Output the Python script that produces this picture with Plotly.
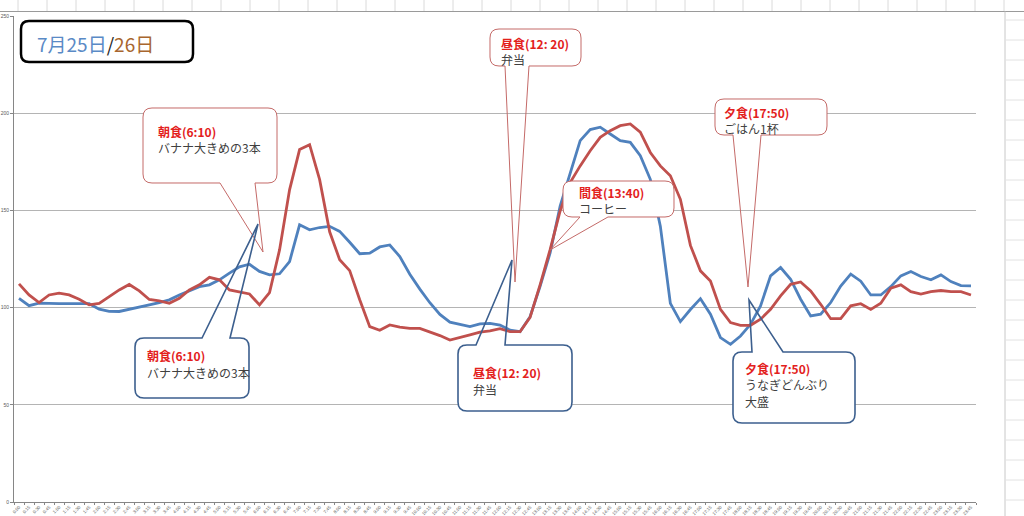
import plotly.graph_objects as go

# ---------------- data ----------------
times = [f"{h}:{m:02d}" for h in range(24) for m in (0, 15, 30, 45)]

jul25 = [104.8, 101.0, 102.3, 102.0, 102.0, 102.0, 102.0, 102.0, 99.2, 98.1,
         98.0, 99.0, 100.2, 101.4, 102.6, 104.0, 106.5, 108.8, 110.8, 111.7,
         114.3, 117.7, 121.0, 122.3, 118.6, 116.8, 117.4, 123.7, 142.6, 140.0,
         141.2, 141.8, 139.2, 133.6, 127.7, 128.0, 131.2, 132.2, 126.3, 117.2,
         109.5, 102.5, 96.5, 92.5, 91.4, 90.2, 91.6, 91.9, 91.0, 88.4,
         87.6, 95.3, 110.9, 128.1, 152.2, 169.5, 185.9, 191.6, 192.8, 189.3,
         185.9, 185.0, 178.1, 166.0, 141.9, 102.2, 92.8, 99.0, 104.6, 96.6,
         84.6, 81.1, 85.4, 91.4, 100.9, 116.3, 120.6, 114.6, 104.3, 95.7,
         96.6, 102.6, 111.1, 117.2, 113.6, 106.5, 106.5, 110.8, 116.3, 118.6,
         116.0, 114.3, 116.8, 113.4, 111.3, 111.2]

jul26 = [112.2, 106.5, 102.6, 106.5, 107.4, 106.5, 104.3, 101.4, 102.2, 105.7,
         109.1, 111.9, 108.6, 104.2, 103.4, 102.2, 104.8, 109.1, 111.7, 115.6,
         114.3, 109.1, 108.2, 107.0, 101.4, 107.7, 129.7, 160.6, 181.3, 183.8,
         165.8, 139.0, 124.6, 119.0, 104.0, 90.2, 88.3, 91.1, 90.0, 89.3,
         89.3, 87.6, 85.6, 83.3, 84.5, 86.0, 87.4, 88.0, 89.2, 87.6,
         87.6, 95.0, 111.7, 129.8, 149.7, 164.3, 172.9, 180.7, 187.6, 191.0,
         193.6, 194.5, 190.2, 179.8, 172.9, 167.8, 155.7, 132.0, 118.9, 113.7,
         99.1, 92.3, 90.9, 90.9, 94.0, 99.1, 106.0, 112.0, 113.2, 108.6,
         101.7, 94.3, 94.3, 100.9, 102.0, 99.1, 102.2, 110.0, 111.7, 108.2,
         107.0, 108.2, 108.8, 108.2, 108.2, 106.5]

y_ticks = [0, 50, 100, 150, 200, 250]

# ---------------- layout geometry (pixels) ----------------
W, H = 1024, 516
PL, PR, PT, PB = 14, 976, 16, 502


def px(x):
    return (x - PL) / (PR - PL)


def py(y):
    return (PB - y) / (PB - PT)


def P(x, y):
    return f"{px(x):.5f},{py(y):.5f}"


def rrect_path(x0, y0, x1, y1, r):
    return (f"M {P(x0 + r, y0)} L {P(x1 - r, y0)} Q {P(x1, y0)} {P(x1, y0 + r)} "
            f"L {P(x1, y1 - r)} Q {P(x1, y1)} {P(x1 - r, y1)} "
            f"L {P(x0 + r, y1)} Q {P(x0, y1)} {P(x0, y1 - r)} "
            f"L {P(x0, y0 + r)} Q {P(x0, y0)} {P(x0 + r, y0)} Z")


def callout_path(x0, y0, x1, y1, r, side, b0, b1, tx, ty):
    if side == "bottom":
        return (f"M {P(x0 + r, y0)} L {P(x1 - r, y0)} Q {P(x1, y0)} {P(x1, y0 + r)} "
                f"L {P(x1, y1 - r)} Q {P(x1, y1)} {P(x1 - r, y1)} "
                f"L {P(b1, y1)} L {P(tx, ty)} L {P(b0, y1)} "
                f"L {P(x0 + r, y1)} Q {P(x0, y1)} {P(x0, y1 - r)} "
                f"L {P(x0, y0 + r)} Q {P(x0, y0)} {P(x0 + r, y0)} Z")
    return (f"M {P(x0 + r, y0)} L {P(b0, y0)} L {P(tx, ty)} L {P(b1, y0)} "
            f"L {P(x1 - r, y0)} Q {P(x1, y0)} {P(x1, y0 + r)} "
            f"L {P(x1, y1 - r)} Q {P(x1, y1)} {P(x1 - r, y1)} "
            f"L {P(x0 + r, y1)} Q {P(x0, y1)} {P(x0, y1 - r)} "
            f"L {P(x0, y0 + r)} Q {P(x0, y0)} {P(x0 + r, y0)} Z")


BLUE = "#4F81BD"
RED = "#C0504D"
RED_TXT = "#E3211C"
TXT = "#404040"
JP = "Noto Sans CJK JP"

fig = go.Figure()
fig.add_trace(go.Scatter(x=times, y=jul25, mode="lines", name="7月25日",
                         line=dict(color=BLUE, width=2.8), hoverinfo="skip"))
fig.add_trace(go.Scatter(x=times, y=jul26, mode="lines", name="7月26日",
                         line=dict(color=RED, width=2.8), hoverinfo="skip"))

shapes = []
annotations = []

# spreadsheet decoration around chart
for cx in range(18, 1024, 29):
    shapes.append(dict(type="line", xref="paper", yref="paper", x0=px(cx), x1=px(cx),
                       y0=py(0), y1=py(11), line=dict(color="#DADADA", width=1)))
shapes.append(dict(type="line", xref="paper", yref="paper", x0=px(0), x1=px(1024),
                   y0=py(11.5), y1=py(11.5), line=dict(color="#9A9A9A", width=1)))
shapes.append(dict(type="line", xref="paper", yref="paper", x0=px(1005), x1=px(1005),
                   y0=py(11.5), y1=py(516), line=dict(color="#C8C8C8", width=1)))
for ry in range(20, 516, 20):
    shapes.append(dict(type="line", xref="paper", yref="paper", x0=px(1006), x1=px(1024),
                       y0=py(ry), y1=py(ry), line=dict(color="#E2E2E2", width=1)))

# title box
shapes.append(dict(type="path", xref="paper", yref="paper",
                   path=rrect_path(21, 21, 193, 62, 8), fillcolor="white",
                   line=dict(color="black", width=2.5), layer="above"))
annotations.append(dict(xref="paper", yref="paper", x=px(35), y=py(43), xanchor="left",
                        yanchor="middle", showarrow=False,
                        text=f"<span style='color:#5A8AC6'>7月25日</span>"
                             f"<span style='color:#222222'>/</span>"
                             f"<span style='color:#A8662E'>26日</span>",
                        font=dict(family=JP, size=19)))

# callouts: box (x0,y0,x1,y1), side, wedge base, tip, colour, text lines
callouts = [
    ((143, 108, 277, 183), "bottom", (220, 255), (263, 252), "#C46A68", 1.0,
     (156, 131), ["朝食(6:10)", "バナナ大きめの3本"]),
    ((135, 338, 249, 398), "top", (202, 230), (258, 224), "#3C5F8E", 1.6,
     (145, 356), ["朝食(6:10)", "バナナ大きめの3本"]),
    ((490, 29, 581, 66), "bottom", (505, 529), (515, 282), "#C46A68", 1.0,
     (499, 43), ["昼食(12: 20)", "弁当"]),
    ((458, 345, 572, 411), "top", (476, 505), (512, 260), "#3C5F8E", 1.6,
     (471, 373), ["昼食(12: 20)", "弁当"]),
    ((563, 181, 674, 217), "bottom", (580, 608), (550, 250), "#C46A68", 1.0,
     (577, 192), ["間食(13:40)", "コーヒー"]),
    ((715, 99, 827, 135), "bottom", (733, 761), (748, 287), "#C46A68", 1.0,
     (722, 112), ["夕食(17:50)", "ごはん1杯"]),
    ((733, 352, 855, 423), "top", (752, 783), (749, 300), "#3C5F8E", 1.6,
     (743, 368), ["夕食(17:50)", "うなぎどんぶり", "大盛"]),
]

for (x0, y0, x1, y1), side, (b0, b1), (tx, ty), col, lw, (tx0, ty0), lines in callouts:
    shapes.append(dict(type="path", xref="paper", yref="paper",
                       path=rrect_path(x0, y0, x1, y1, 9), fillcolor="white",
                       line=dict(width=0), layer="above"))
    shapes.append(dict(type="path", xref="paper", yref="paper",
                       path=callout_path(x0, y0, x1, y1, 9, side, b0, b1, tx, ty),
                       fillcolor="rgba(0,0,0,0)", line=dict(color=col, width=lw),
                       layer="above"))
    for k, t in enumerate(lines):
        if k == 0:
            txt = f"<b>{t}</b>"
            f = dict(family=JP, size=12, color=RED_TXT)
        else:
            txt = t
            f = dict(family=JP, size=12, color=TXT)
        annotations.append(dict(xref="paper", yref="paper", x=px(tx0), y=py(ty0 + 16.5 * k),
                                xanchor="left", yanchor="middle", showarrow=False,
                                text=txt, font=f))

fig.update_layout(
    width=W, height=H,
    margin=dict(l=PL, r=W - PR, t=PT, b=H - PB, autoexpand=False),
    paper_bgcolor="white", plot_bgcolor="white",
    showlegend=False, hovermode=False,
    shapes=shapes, annotations=annotations,
    xaxis=dict(type="category", tickmode="linear", tick0=0, dtick=1,
               range=[-0.5, len(times) - 0.5], tickson="boundaries",
               ticks="outside", ticklen=2, tickcolor="#868686",
               tickangle=-45, tickfont=dict(family="Liberation Sans", size=4.4, color="#595959"),
               ticklabelstandoff=0,
               showline=True, linecolor="#868686", linewidth=1, showgrid=False,
               zeroline=False, automargin=False),
    yaxis=dict(range=[0, 250], tickvals=y_ticks, ticktext=[str(v) for v in y_ticks],
               ticks="outside", ticklen=3, tickcolor="#868686",
               tickfont=dict(family="Liberation Sans", size=5, color="#595959"),
               showline=True, linecolor="#868686", linewidth=1,
               showgrid=True, gridcolor="#B4B4B4", gridwidth=1,
               zeroline=False, automargin=False),
)

fig.write_html("out.html", post_script="document.body.style.margin='0';",
               config={"displayModeBar": False, "staticPlot": True})
